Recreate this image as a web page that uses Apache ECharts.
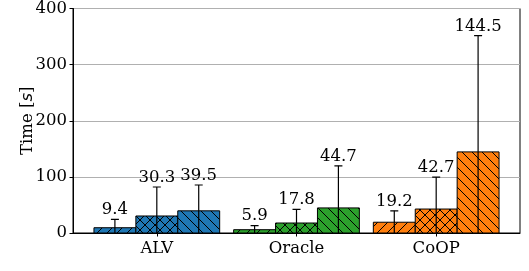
<!DOCTYPE html>
<html>
<head>
<meta charset="utf-8">
<script src="https://cdn.jsdelivr.net/npm/echarts@6/dist/echarts.min.js"></script>
<style>
  html, body { margin: 0; padding: 0; background: #fff; }
  #chart { width: 529px; height: 271px; }
</style>
</head>
<body>
<div id="chart"></div>
<script>
// categories and bar colours
const categories = ['ALV', 'Oracle', 'CoOP']
const catColors = ['#1f77b4', '#2ca02c', '#ff7f0e']

// three variants per category, each with its own hatch
const hatches = ['/', 'x', '\\']
const meanA = [9.4, 5.9, 19.2]
const errA = [14.8, 7.1, 20.3]
const meanB = [30.3, 17.8, 42.7]
const errB = [51.7, 24.2, 57.0]
const meanC = [39.5, 44.7, 144.5]
const errC = [46.0, 75.0, 207.0]

const yTicks = [0, 100, 200, 300, 400]

const FONT = 'DejaVu Serif'
const FS = 16.5

// hatch pattern: colour fill + black diagonal lines, 10px tile
function makePattern(color, hatch) {
  const s = 10
  const c = document.createElement('canvas')
  c.width = s
  c.height = s
  const ctx = c.getContext('2d')
  ctx.fillStyle = color
  ctx.fillRect(0, 0, s, s)
  ctx.strokeStyle = '#000'
  ctx.lineWidth = 1
  const fwd = () => {
    ctx.beginPath()
    ctx.moveTo(-2, s + 2); ctx.lineTo(s + 2, -2)
    ctx.moveTo(-2, 2); ctx.lineTo(2, -2)
    ctx.moveTo(s - 2, s + 2); ctx.lineTo(s + 2, s - 2)
    ctx.stroke()
  }
  const back = () => {
    ctx.beginPath()
    ctx.moveTo(-2, -2); ctx.lineTo(s + 2, s + 2)
    ctx.moveTo(s - 2, -2); ctx.lineTo(s + 2, 2)
    ctx.moveTo(-2, s - 2); ctx.lineTo(2, s + 2)
    ctx.stroke()
  }
  if (hatch === '/' || hatch === 'x') fwd()
  if (hatch === '\\' || hatch === 'x') back()
  return { image: c, repeat: 'repeat' }
}

const means = [meanA, meanB, meanC]
const errs = [errA, errB, errC]
const offsets = [-0.3, 0, 0.3]
const halfW = 0.15

let chartDom = document.getElementById('chart')
let myChart = echarts.init(chartDom)

const series = means.map((m, s) => {
  const patterns = catColors.map((c) => makePattern(c, hatches[s]))
  return {
    type: 'custom',
    name: 'v' + s,
    clip: true,
    renderItem: function (params, api) {
      const x = api.value(0)
      const y = api.value(1)
      const e = api.value(2)
      const ci = api.value(3)
      const p0 = api.coord([x - halfW, 0])
      const p1 = api.coord([x + halfW, y])
      const top = api.coord([x, y + e])
      const bot = api.coord([x, Math.max(y - e, 0)])
      const cap = 4
      const children = [
        {
          type: 'rect',
          shape: { x: p0[0], y: p1[1], width: p1[0] - p0[0], height: p0[1] - p1[1] },
          style: { fill: patterns[ci], stroke: '#000', lineWidth: 1 }
        },
        {
          type: 'line',
          shape: { x1: top[0], y1: top[1], x2: bot[0], y2: bot[1] },
          style: { stroke: '#000', lineWidth: 1.2 }
        },
        {
          type: 'line',
          shape: { x1: top[0] - cap, y1: top[1], x2: top[0] + cap, y2: top[1] },
          style: { stroke: '#000', lineWidth: 1.2 }
        },
        {
          type: 'text',
          style: {
            text: String(y),
            x: top[0],
            y: top[1] - 1,
            textAlign: 'center',
            textVerticalAlign: 'bottom',
            fontFamily: FONT,
            fontSize: FS,
            fill: '#000'
          }
        }
      ]
      return { type: 'group', children: children }
    },
    data: m.map((v, i) => [i + offsets[s], v, errs[s][i], i])
  }
})

let option = {
  animation: false,
  grid: {
    left: 73,
    top: 6.5,
    width: 447,
    height: 226.5,
    show: true,
    borderColor: '#000',
    borderWidth: 1,
    backgroundColor: 'transparent'
  },
  xAxis: {
    type: 'value',
    min: -0.6,
    max: 2.6,
    splitLine: { show: false },
    axisLine: { show: true, onZero: false, lineStyle: { color: '#000', width: 1 } },
    axisTick: { show: true, customValues: [0, 1, 2], length: 3.5, lineStyle: { color: '#000' } },
    axisLabel: {
      customValues: [0, 1, 2],
      formatter: function (v) { return categories[Math.round(v)] },
      fontFamily: FONT,
      fontSize: FS,
      color: '#000',
      margin: 7
    }
  },
  yAxis: {
    type: 'value',
    min: yTicks[0],
    max: yTicks[yTicks.length - 1],
    interval: 100,
    name: 'Time [{i|s}]',
    nameLocation: 'middle',
    nameGap: 37,
    nameMoveOverlap: false,
    nameTextStyle: {
      fontFamily: FONT,
      fontSize: FS,
      color: '#000',
      rich: {
        i: { fontFamily: 'DejaVu Sans', fontStyle: 'italic', fontSize: FS, color: '#000' }
      }
    },
    axisLine: { show: true, onZero: false, lineStyle: { color: '#000', width: 1 } },
    axisTick: { show: true, length: 3.5, lineStyle: { color: '#000' } },
    axisLabel: { fontFamily: FONT, fontSize: FS, color: '#000', margin: 6 },
    splitLine: { show: true, lineStyle: { color: '#b0b0b0', width: 1 } }
  },
  series: series
}

option && myChart.setOption(option)
</script>
</body>
</html>
